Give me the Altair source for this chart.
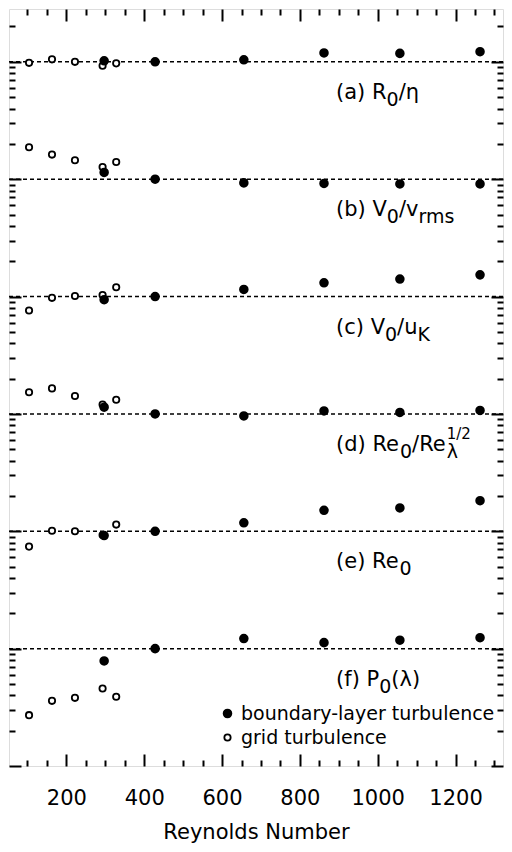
import altair as alt
import pandas as pd

# ---------------- data ----------------
series_names = ["boundary-layer turbulence", "grid turbulence"]
grid_re = [104, 163, 222, 293, 328]
bl_re = [297, 428, 656, 862, 1057, 1263]

panels = ["a", "b", "c", "d", "e", "f"]
panel_ref = [1e6, 1e5, 1e4, 1e3, 1e2, 1e1]

grid_ratio_a = [0.98, 1.05, 1.00, 0.925, 0.97]
grid_ratio_b = [1.87, 1.62, 1.45, 1.27, 1.40]
grid_ratio_c = [0.76, 0.975, 1.01, 1.03, 1.20]
grid_ratio_d = [1.53, 1.65, 1.42, 1.20, 1.32]
grid_ratio_e = [0.74, 1.01, 1.00, 0.93, 1.14]
grid_ratio_f = [0.271, 0.359, 0.381, 0.457, 0.389]

bl_ratio_a = [1.02, 1.00, 1.04, 1.19, 1.18, 1.22]
bl_ratio_b = [1.14, 1.00, 0.93, 0.92, 0.91, 0.91]
bl_ratio_c = [0.94, 1.00, 1.15, 1.31, 1.41, 1.53]
bl_ratio_d = [1.14, 1.00, 0.96, 1.06, 1.03, 1.07]
bl_ratio_e = [0.92, 1.00, 1.18, 1.51, 1.58, 1.82]
bl_ratio_f = [0.785, 1.00, 1.22, 1.125, 1.18, 1.24]

grid_ratios = [grid_ratio_a, grid_ratio_b, grid_ratio_c, grid_ratio_d, grid_ratio_e, grid_ratio_f]
bl_ratios = [bl_ratio_a, bl_ratio_b, bl_ratio_c, bl_ratio_d, bl_ratio_e, bl_ratio_f]

x_tick_values = list(range(100, 1301, 50))
x_label_values = [200, 400, 600, 800, 1000, 1200]

label_x = 893
label_segments = {
    "a": [("(a) R", "main"), ("0", "sub"), ("/η", "main")],
    "b": [("(b) V", "main"), ("0", "sub"), ("/v", "main"), ("rms", "sub")],
    "c": [("(c) V", "main"), ("0", "sub"), ("/u", "main"), ("K", "sub")],
    "d": [("(d) Re", "main"), ("0", "sub"), ("/Re", "main"), ("λ", "sub"), ("1/2", "sup")],
    "e": [("(e) Re", "main"), ("0", "sub")],
    "f": [("(f) P", "main"), ("0", "sub"), ("(λ)", "main")],
}

# ---------------- layout / style ----------------
W, H = 494, 757
X_MIN, X_MAX = 52.5, 1322
Y_MIN, Y_MAX = 1, 10 ** 6.45
PX_PER_UNIT = W / (X_MAX - X_MIN)
FONT = "DejaVu Sans"
FS = {"main": 21, "sub": 19, "sup": 15}
DY = {"main": 37, "sub": 44, "sup": 25}

y_tick_values = [m * 10 ** k for k in range(0, 7) for m in range(1, 10) if m * 10 ** k <= Y_MAX]

DJV = {" ": 0.318, "(": 0.390, ")": 0.390, "/": 0.337, "0": 0.636, "1": 0.636, "2": 0.636,
       "K": 0.656, "P": 0.603, "R": 0.695, "V": 0.684, "a": 0.613, "b": 0.635, "c": 0.550,
       "d": 0.635, "e": 0.615, "f": 0.352, "m": 0.974, "r": 0.411, "s": 0.521, "u": 0.634,
       "v": 0.592, "η": 0.634, "λ": 0.592}


def text_width(s, fs):
    return sum(DJV.get(ch, 0.6) for ch in s) * fs


# ---------------- tables ----------------
rows = []
for p, ref, gr in zip(panels, panel_ref, grid_ratios):
    for re_, r in zip(grid_re, gr):
        rows.append({"Re": re_, "value": r * ref, "series": series_names[1]})
for p, ref, br in zip(panels, panel_ref, bl_ratios):
    for re_, r in zip(bl_re, br):
        rows.append({"Re": re_, "value": r * ref, "series": series_names[0]})
pts_df = pd.DataFrame(rows)

rule_df = pd.DataFrame({"ref": panel_ref, "xs": [X_MIN] * 6, "xe": [X_MAX] * 6})

seg_rows = []
for p, ref in zip(panels, panel_ref):
    cur = 0.0
    last_sub = 0.0
    for txt, role in label_segments[p]:
        dx = last_sub if role == "sup" else cur
        seg_rows.append({"x": label_x + dx / PX_PER_UNIT, "ref": ref, "text": txt, "role": role})
        if role == "sub":
            last_sub = cur
        if role != "sup":
            cur += text_width(txt, FS[role])
seg_df = pd.DataFrame(seg_rows)

xscale = alt.Scale(domain=[X_MIN, X_MAX], nice=False, zero=False)
yscale = alt.Scale(type="log", domain=[Y_MIN, Y_MAX], nice=False)

xsize = {"condition": {"test": "datum.value % 200 === 0", "value": 12}, "value": 6}
ysize = {"condition": {"test": "indexof([1,10,100,1000,10000,100000,1000000], datum.value) >= 0",
                       "value": 12}, "value": 6}


def tick_axis(orient, offset, values, size):
    return alt.Axis(orient=orient, offset=offset, values=values, labels=False, domain=False,
                    grid=False, ticks=True, tickColor="black", tickWidth=2, tickSize=size,
                    title=None)


rules = alt.Chart(rule_df).mark_rule(color="black", strokeDash=[4, 3], strokeWidth=1.5).encode(
    x=alt.X("xs:Q", scale=xscale, axis=tick_axis("top", -H, x_tick_values, xsize)),
    x2="xe:Q",
    y=alt.Y("ref:Q", scale=yscale, axis=tick_axis("right", -W, y_tick_values, ysize)),
)

legend = alt.Legend(title=None, orient="none", legendX=209, legendY=695, labelFontSize=19,
                    labelFont=FONT, labelColor="black", labelLimit=0,
                    symbolStrokeWidth=1.8, labelOffset=4, rowPadding=4, padding=0,
                    symbolType="circle")

points = alt.Chart(pts_df).mark_point(filled=True, shape="circle",
                                      strokeWidth=1.8, opacity=1).encode(
    x=alt.X("Re:Q", scale=xscale,
            axis=alt.Axis(orient="bottom", values=x_label_values, format="d", ticks=False,
                          domain=False, grid=False, labelFontSize=21, labelFont=FONT,
                          labelColor="black", labelPadding=21, title="Reynolds Number",
                          titleFontSize=21, titleFont=FONT, titleFontWeight="normal",
                          titleColor="black", titlePadding=13)),
    y=alt.Y("value:Q", scale=yscale, axis=tick_axis("left", -W, y_tick_values, ysize)),
    fill=alt.Fill("series:N", scale=alt.Scale(domain=series_names, range=["black", "white"]),
                  legend=legend),
    stroke=alt.Stroke("series:N", scale=alt.Scale(domain=series_names, range=["black", "black"]),
                      legend=legend),
    size=alt.Size("series:N", scale=alt.Scale(domain=series_names, range=[60, 40]),
                  legend=legend),
)


def text_layer(role, axis):
    return alt.Chart(seg_df[seg_df.role == role]).mark_text(
        align="left", baseline="alphabetic", color="black", font=FONT,
        fontSize=FS[role], dy=DY[role]).encode(
        x=alt.X("x:Q", scale=xscale, axis=axis),
        y=alt.Y("ref:Q", scale=yscale, axis=None),
        text="text:N",
    )


t_main = text_layer("main", tick_axis("bottom", -H, x_tick_values, xsize))
t_sub = text_layer("sub", None)
t_sup = text_layer("sup", None)

chart = alt.layer(rules, points, t_main, t_sub, t_sup).resolve_axis(
    x="independent", y="independent"
).properties(
    width=W, height=H,
    autosize=alt.AutoSizeParams(type="none"),
    padding={"left": 1, "top": 1, "right": 1, "bottom": 78},
).configure_view(stroke="black", strokeWidth=2.5).configure(font=FONT)

chart.save("out.html", embed_options={"renderer": "svg", "actions": False})
